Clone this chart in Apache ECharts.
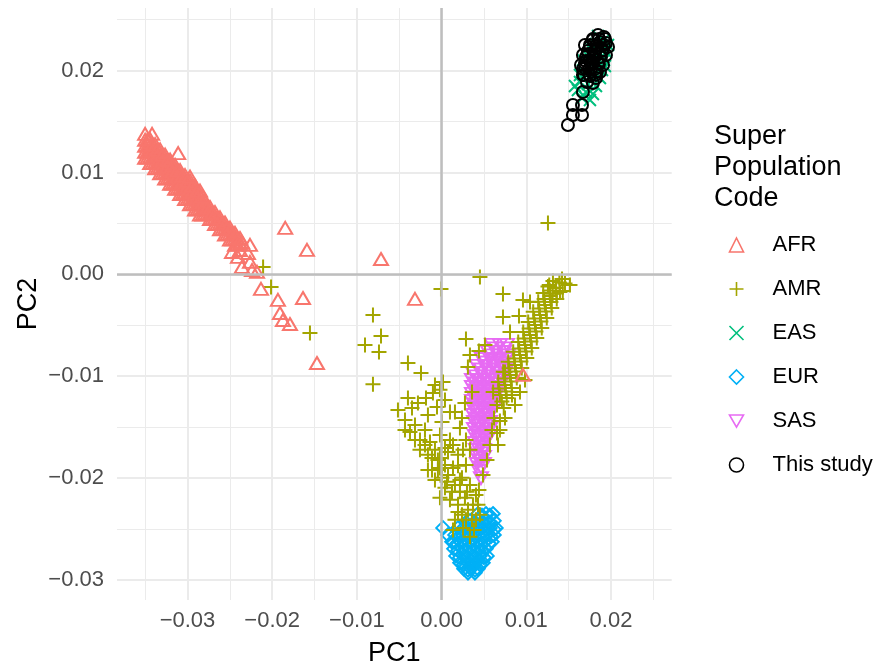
<!DOCTYPE html>
<html>
<head>
<meta charset="utf-8">
<script src="https://cdn.jsdelivr.net/npm/echarts@6/dist/echarts.min.js"></script>
<style>html,body{margin:0;padding:0;background:#fff}#c{width:877px;height:666px}</style>
</head>
<body>
<div id="c"></div>
<script>
const FONT = 'Liberation Sans, Arial, Helvetica, sans-serif';
const groupNames = ['AFR', 'AMR', 'EAS', 'EUR', 'SAS', 'This study'];
const groupColors = ['#F8766D', '#A3A500', '#00BF7D', '#00B0F6', '#E76BF3', '#000000'];
const legendTitle = 'Super\nPopulation\nCode';
const xName = 'PC1';
const yName = 'PC2';
const xRange = [-0.03832, 0.02717];
const yRange = [-0.03197, 0.02615];

const afrData = [
[-0.03500,0.01261],[-0.03500,0.01320],[-0.03500,0.01202],[-0.03500,0.01379],[-0.03500,0.01143],
[-0.03441,0.01210],[-0.03441,0.01269],[-0.03441,0.01151],[-0.03441,0.01328],[-0.03441,0.01092],
[-0.03382,0.01160],[-0.03382,0.01219],[-0.03382,0.01101],[-0.03382,0.01278],[-0.03382,0.01042],
[-0.03323,0.01109],[-0.03323,0.01168],[-0.03323,0.01050],[-0.03323,0.01227],[-0.03323,0.00991],
[-0.03264,0.01058],[-0.03264,0.01117],[-0.03264,0.00999],[-0.03264,0.01176],[-0.03264,0.00940],
[-0.03205,0.01008],[-0.03205,0.01067],[-0.03205,0.00949],[-0.03205,0.01126],[-0.03205,0.00890],
[-0.03146,0.00957],[-0.03146,0.01016],[-0.03146,0.00898],[-0.03146,0.01075],[-0.03146,0.00839],
[-0.03087,0.00906],[-0.03087,0.00965],[-0.03087,0.00847],[-0.03087,0.01024],[-0.03087,0.00788],
[-0.03029,0.00856],[-0.03029,0.00915],[-0.03029,0.00797],[-0.03029,0.00974],[-0.03029,0.00738],
[-0.02970,0.00805],[-0.02970,0.00864],[-0.02970,0.00746],[-0.02970,0.00923],[-0.02970,0.00687],
[-0.02911,0.00754],[-0.02911,0.00813],[-0.02911,0.00695],[-0.02911,0.00872],[-0.02911,0.00636],
[-0.02852,0.00704],[-0.02852,0.00763],[-0.02852,0.00645],[-0.02852,0.00822],[-0.02852,0.00586],
[-0.02793,0.00653],[-0.02793,0.00712],[-0.02793,0.00594],
[-0.02734,0.00602],[-0.02734,0.00661],[-0.02734,0.00543],
[-0.02675,0.00552],[-0.02675,0.00611],[-0.02675,0.00493],
[-0.02616,0.00501],[-0.02616,0.00560],[-0.02616,0.00442],
[-0.02557,0.00450],[-0.02557,0.00509],[-0.02557,0.00391],
[-0.02498,0.00400],[-0.02498,0.00459],[-0.02498,0.00341],
[-0.02439,0.00349],[-0.02439,0.00408],[-0.02439,0.00290],
[-0.02380,0.00298],[-0.02380,0.00357],[-0.02380,0.00239],
[-0.03471,0.01266],[-0.03471,0.01206],[-0.03471,0.01326],[-0.03471,0.01146],
[-0.03412,0.01215],[-0.03412,0.01155],[-0.03412,0.01275],[-0.03412,0.01095],
[-0.03353,0.01164],[-0.03353,0.01104],[-0.03353,0.01224],[-0.03353,0.01044],
[-0.03294,0.01114],[-0.03294,0.01054],[-0.03294,0.01174],[-0.03294,0.00994],
[-0.03235,0.01063],[-0.03235,0.01003],[-0.03235,0.01123],[-0.03235,0.00943],
[-0.03176,0.01012],[-0.03176,0.00952],[-0.03176,0.01072],[-0.03176,0.00892],
[-0.03117,0.00962],[-0.03117,0.00902],[-0.03117,0.01022],[-0.03117,0.00842],
[-0.03058,0.00911],[-0.03058,0.00851],[-0.03058,0.00971],[-0.03058,0.00791],
[-0.03000,0.00860],[-0.03000,0.00800],[-0.03000,0.00920],[-0.03000,0.00740],
[-0.02941,0.00809],[-0.02941,0.00749],[-0.02941,0.00869],[-0.02941,0.00689],
[-0.02882,0.00759],[-0.02882,0.00699],[-0.02882,0.00819],[-0.02882,0.00639],
[-0.02823,0.00708],[-0.02823,0.00648],[-0.02823,0.00768],[-0.02823,0.00588],
[-0.02764,0.00657],[-0.02764,0.00597],
[-0.02705,0.00607],[-0.02705,0.00547],
[-0.02646,0.00556],[-0.02646,0.00496],
[-0.02587,0.00505],[-0.02587,0.00445],
[-0.02528,0.00455],[-0.02528,0.00395],
[-0.02469,0.00404],[-0.02469,0.00344],
[-0.02410,0.00353],[-0.02410,0.00293],
[-0.03418,0.01379],[-0.03110,0.01190],[-0.02970,0.00960],
[-0.02474,0.00220],[-0.02404,0.00171],[-0.02286,0.00210],[-0.02357,0.00073],[-0.02238,0.00043],
[-0.02179,0.00024],[-0.02262,0.00122],[-0.02357,0.00318],[-0.02262,0.00289],
[-0.01846,0.00456],[-0.01589,0.00240],[-0.02132,-0.00143],[-0.01636,-0.00232],[-0.01932,-0.00251],
[-0.01908,-0.00379],[-0.01873,-0.00448],[-0.01790,-0.00487],[-0.01471,-0.00870],[-0.00715,0.00151],
[-0.00314,-0.00241],[0.00961,-0.00987]
];

const amrData = [
[0.01351,-0.00134],[0.01431,-0.00164],[0.01271,-0.00104],[0.01391,-0.00080],[0.01311,-0.00190],
[0.01457,-0.00089],[0.01256,-0.00118],[0.01398,-0.00173],
[0.01516,-0.00104],[0.01422,-0.00045],[0.01315,-0.00065],
[0.01280,-0.00212],[0.01360,-0.00242],[0.01200,-0.00182],
[0.01221,-0.00300],[0.01301,-0.00330],[0.01141,-0.00270],
[0.01162,-0.00398],[0.01242,-0.00428],[0.01082,-0.00368],
[0.01103,-0.00497],[0.01183,-0.00527],[0.01023,-0.00467],
[0.01044,-0.00595],[0.01124,-0.00625],[0.00964,-0.00565],
[0.00985,-0.00693],[0.01065,-0.00723],[0.00905,-0.00663],
[0.00926,-0.00791],[0.01006,-0.00821],[0.00846,-0.00761],
[0.00867,-0.00889],[0.00947,-0.00919],[0.00787,-0.00859],
[0.00808,-0.00987],[0.00888,-0.01017],[0.00728,-0.00957],
[0.00749,-0.01086],[0.00829,-0.01116],[0.00669,-0.01056],
[0.00689,-0.01184],[0.00769,-0.01214],[0.00609,-0.01154],
[0.00654,-0.01282],[0.00734,-0.01312],
[0.00619,-0.01410],[0.00689,-0.01440],
[0.00595,-0.01527],[0.00655,-0.01557],
[0.00571,-0.01675],[0.00536,-0.01822],[0.00489,-0.01969],[0.00441,-0.02116],
[0.01356,-0.00188],[0.01276,-0.00158],[0.01291,-0.00271],[0.01211,-0.00241],
[0.01232,-0.00364],[0.01152,-0.00334],[0.01173,-0.00463],[0.01093,-0.00433],
[0.01114,-0.00561],[0.01034,-0.00531],[0.01055,-0.00659],[0.00975,-0.00629],
[0.00996,-0.00757],[0.00916,-0.00727],[0.00937,-0.00855],[0.00857,-0.00825],
[0.00878,-0.00953],[0.00798,-0.00923],[0.00819,-0.01052],[0.00739,-0.01022],
[0.00759,-0.01150],[0.00679,-0.01120],[0.00712,-0.01248],
[0.00749,-0.00958],[0.00831,-0.01184],[0.00926,-0.01154],[0.00867,-0.01282],[0.00749,-0.01410],
[0.00689,-0.01527],[0.00666,-0.01675],[0.00985,-0.01036],[0.00512,-0.00693],[0.00335,-0.00791],
[0.01256,0.00505],[0.00453,-0.00026],[-0.00007,-0.00143],[-0.00810,-0.00399],[-0.00715,-0.00605],
[-0.00904,-0.00693],[-0.00739,-0.00762],[-0.00397,-0.00870],[-0.00243,-0.00968],[-0.00810,-0.01080],
[0.00288,-0.00634],[0.00441,-0.00752],[0.00311,-0.00909],[0.00725,-0.00192],[0.00961,-0.00251],
[0.01044,-0.00271],[0.00725,-0.00418],[0.00914,-0.00408],[0.00808,-0.00565],[-0.02107,0.00073],
[-0.02013,-0.00124],[-0.01554,-0.00575],
[-0.00515,-0.01331],[-0.00349,-0.01312],[-0.00279,-0.01262],[-0.00054,-0.01302],[-0.00102,-0.01164],
[0.00017,-0.01056],[-0.00078,-0.01086],[-0.00019,-0.01134],[0.00099,-0.01351],[0.00276,-0.01262],
[0.00359,-0.01154],[0.00241,-0.01410],[-0.00432,-0.01429],[-0.00314,-0.01478],[-0.00196,-0.01527],
[-0.00255,-0.01625],[-0.00137,-0.01645],[-0.00078,-0.01723],[-0.00161,-0.01772],[-0.00019,-0.01802],
[0.00040,-0.01871],[-0.00043,-0.01920],[0.00076,-0.01969],[0.00135,-0.01900],[0.00158,-0.02067],
[0.00040,-0.02096],[0.00217,-0.02135],[0.00241,-0.01998],[0.00099,-0.02214],[0.00194,-0.02263],
[0.00276,-0.02194],[0.00312,-0.02312],[0.00359,-0.02410],[0.00241,-0.02361],[0.00158,-0.02410],
[0.00383,-0.02509],[0.00253,-0.02489],[-0.00078,-0.02018],[-0.00113,-0.01920],[-0.00255,-0.01723],
[-0.00373,-0.01547],[0.00005,-0.01449],[0.00099,-0.01625],[0.00194,-0.01772],[0.00288,-0.01871],
[0.00335,-0.01723],[0.00288,-0.01625],[0.00217,-0.01508],[0.00158,-0.01351],[0.00040,-0.01233],
[-0.00184,-0.01213],[0.00335,-0.02067],[0.00406,-0.02165],[0.00430,-0.02263],[0.00453,-0.02361],
[0.00135,-0.02509],[0.00335,-0.02577],[-0.00397,-0.01213],[-0.00161,-0.01380],[-0.00019,-0.01576],
[0.00076,-0.01743],[0.00005,-0.01998],
[-0.00196,-0.01675],[-0.00113,-0.01802],[-0.00019,-0.01900],[0.00064,-0.02037],[0.00123,-0.02135],
[0.00194,-0.01880],[0.00253,-0.01723],[0.00135,-0.01675],[0.00040,-0.01704],[-0.00043,-0.01822],
[0.00217,-0.02018],[0.00300,-0.02135],[0.00371,-0.02263],[0.00288,-0.02410],[0.00406,-0.02410],
[0.00194,-0.02332],[-0.00019,-0.02194],[-0.00161,-0.01920],[-0.00314,-0.01625],[-0.00432,-0.01527]
];

const easData = [
[0.01847,0.02340],[0.01917,0.02301],[0.01823,0.02262],[0.01906,0.02223],[0.01776,0.02203],
[0.01870,0.02164],[0.01941,0.02184],[0.01752,0.02125],[0.01847,0.02085],[0.01917,0.02105],
[0.01728,0.02046],[0.01811,0.02026],[0.01894,0.02007],[0.01693,0.01967],[0.01787,0.01948],
[0.01870,0.01928],[0.01634,0.01889],[0.01728,0.01869],[0.01823,0.01850],[0.01610,0.01810],
[0.01705,0.01791],[0.01787,0.01771],[0.01658,0.01732],[0.01752,0.01712],[0.01575,0.01850],
[0.01929,0.02046],[0.01965,0.02252],[0.01669,0.02105],[0.01634,0.01958]
];

const eurData = [
[0.00430,-0.02351],[0.00524,-0.02351],[0.00607,-0.02351],
[0.00335,-0.02420],[0.00430,-0.02420],[0.00524,-0.02420],[0.00619,-0.02420],
[0.00194,-0.02489],[0.00288,-0.02489],[0.00383,-0.02489],[0.00477,-0.02489],[0.00571,-0.02489],[0.00642,-0.02489],
[0.00158,-0.02558],[0.00253,-0.02558],[0.00347,-0.02558],[0.00441,-0.02558],[0.00536,-0.02558],[0.00619,-0.02558],
[0.00135,-0.02626],[0.00229,-0.02626],[0.00323,-0.02626],[0.00418,-0.02626],[0.00512,-0.02626],[0.00595,-0.02626],
[0.00146,-0.02695],[0.00241,-0.02695],[0.00335,-0.02695],[0.00430,-0.02695],[0.00524,-0.02695],
[0.00170,-0.02764],[0.00264,-0.02764],[0.00359,-0.02764],[0.00453,-0.02764],[0.00536,-0.02764],
[0.00217,-0.02832],[0.00312,-0.02832],[0.00406,-0.02832],[0.00489,-0.02832],
[0.00264,-0.02891],[0.00347,-0.02891],[0.00430,-0.02891],
[0.00312,-0.02930],[0.00394,-0.02930],
[0.00477,-0.02367],[0.00571,-0.02367],
[0.00288,-0.02436],[0.00383,-0.02436],[0.00477,-0.02436],[0.00571,-0.02436],
[0.00241,-0.02504],[0.00335,-0.02504],[0.00430,-0.02504],[0.00524,-0.02504],[0.00619,-0.02504],
[0.00205,-0.02573],[0.00300,-0.02573],[0.00394,-0.02573],[0.00489,-0.02573],[0.00583,-0.02573],
[0.00182,-0.02642],[0.00276,-0.02642],[0.00371,-0.02642],[0.00465,-0.02642],[0.00560,-0.02642],
[0.00194,-0.02711],[0.00288,-0.02711],[0.00383,-0.02711],[0.00477,-0.02711],
[0.00217,-0.02779],[0.00312,-0.02779],[0.00406,-0.02779],[0.00500,-0.02779],
[0.00264,-0.02848],[0.00359,-0.02848],[0.00453,-0.02848],
[0.00312,-0.02902],[0.00394,-0.02902],
[0.00017,-0.02489],[0.00076,-0.02558],[0.00123,-0.02626]
];

const sasData = [
[0.00595,-0.00693],[0.00689,-0.00693],[0.00772,-0.00693],
[0.00548,-0.00762],[0.00642,-0.00762],[0.00737,-0.00762],
[0.00477,-0.00831],[0.00571,-0.00831],[0.00666,-0.00831],[0.00760,-0.00831],
[0.00418,-0.00899],[0.00512,-0.00899],[0.00607,-0.00899],[0.00701,-0.00899],
[0.00371,-0.00968],[0.00465,-0.00968],[0.00560,-0.00968],[0.00654,-0.00968],[0.00749,-0.00968],
[0.00359,-0.01037],[0.00453,-0.01037],[0.00548,-0.01037],[0.00642,-0.01037],[0.00725,-0.01037],
[0.00359,-0.01106],[0.00453,-0.01106],[0.00548,-0.01106],[0.00642,-0.01106],
[0.00359,-0.01174],[0.00453,-0.01174],[0.00548,-0.01174],[0.00642,-0.01174],
[0.00359,-0.01243],[0.00453,-0.01243],[0.00548,-0.01243],[0.00630,-0.01243],
[0.00371,-0.01312],[0.00465,-0.01312],[0.00560,-0.01312],[0.00619,-0.01312],
[0.00371,-0.01381],[0.00465,-0.01381],[0.00560,-0.01381],
[0.00383,-0.01449],[0.00477,-0.01449],[0.00571,-0.01449],
[0.00383,-0.01518],[0.00477,-0.01518],[0.00571,-0.01518],
[0.00394,-0.01587],[0.00489,-0.01587],[0.00560,-0.01587],
[0.00394,-0.01656],[0.00489,-0.01656],
[0.00406,-0.01724],[0.00500,-0.01724],
[0.00418,-0.01793],[0.00500,-0.01793],
[0.00418,-0.01862],[0.00500,-0.01862],
[0.00441,-0.01931],[0.00465,-0.02000],
[0.00642,-0.00727],[0.00737,-0.00727],
[0.00595,-0.00796],[0.00689,-0.00796],[0.00784,-0.00796],
[0.00524,-0.00865],[0.00619,-0.00865],[0.00713,-0.00865],
[0.00465,-0.00934],[0.00560,-0.00934],[0.00654,-0.00934],[0.00749,-0.00934],
[0.00406,-0.01002],[0.00500,-0.01002],[0.00595,-0.01002],[0.00689,-0.01002],
[0.00406,-0.01071],[0.00500,-0.01071],[0.00595,-0.01071],[0.00678,-0.01071],
[0.00406,-0.01140],[0.00500,-0.01140],[0.00595,-0.01140],[0.00678,-0.01140],
[0.00406,-0.01209],[0.00500,-0.01209],[0.00595,-0.01209],
[0.00406,-0.01277],[0.00500,-0.01277],[0.00583,-0.01277],
[0.00418,-0.01346],[0.00512,-0.01346],[0.00595,-0.01346],
[0.00418,-0.01415],[0.00512,-0.01415],
[0.00430,-0.01484],[0.00524,-0.01484],
[0.00430,-0.01552],[0.00524,-0.01552],
[0.00441,-0.01621],[0.00536,-0.01621],
[0.00453,-0.01690],[0.00465,-0.01758],[0.00453,-0.01827],[0.00465,-0.01896]
];

const studyData = [
[0.01847,0.02350],[0.01917,0.02331],[0.01787,0.02301],[0.01870,0.02282],[0.01941,0.02272],
[0.01752,0.02233],[0.01835,0.02223],[0.01906,0.02203],[0.01728,0.02164],[0.01811,0.02154],
[0.01882,0.02135],[0.01705,0.02095],[0.01787,0.02085],[0.01858,0.02066],[0.01693,0.02026],
[0.01764,0.02016],[0.01835,0.01997],[0.01681,0.01958],[0.01752,0.01948],[0.01717,0.01889],
[0.01787,0.01879],[0.01669,0.01791],[0.01551,0.01663],[0.01658,0.01663],[0.01551,0.01565],
[0.01658,0.01565],[0.01492,0.01467],
[0.01693,0.02252],[0.01669,0.02154],[0.01965,0.02233],[0.01941,0.02154],[0.01646,0.02056],
[0.01906,0.02056],[0.01870,0.01987],[0.01823,0.01928],
[0.01787,0.02311],[0.01858,0.02311],[0.01929,0.02311],
[0.01752,0.02252],[0.01835,0.02252],[0.01917,0.02252],
[0.01728,0.02193],[0.01811,0.02193],[0.01894,0.02193],
[0.01705,0.02135],[0.01787,0.02135],[0.01870,0.02135],
[0.01693,0.02076],[0.01764,0.02076],[0.01847,0.02076],
[0.01669,0.02017],[0.01740,0.02017],[0.01811,0.02017],
[0.01669,0.01958],[0.01752,0.01958],[0.01823,0.01958]
];

const SYM_TRI = 'triangle';
const SYM_PLUS = 'path://M5,0L5,10M0,5L10,5';
const SYM_X = 'path://M0,0L10,10M10,0L0,10';
const SYM_DIAMOND = 'diamond';
const SYM_DOWN = 'path://M0,0L12,0L6,10.4Z';
const SYM_CIRCLE = 'circle';

const symbols = [SYM_TRI, SYM_PLUS, SYM_X, SYM_DIAMOND, SYM_DOWN, SYM_CIRCLE];
const symbolSizes = [[14, 12], 15, 12, 13.5, [14, 12], 12];
const dataSets = [afrData, amrData, easData, eurData, sasData, studyData];
const drawOrder = [3, 4, 1, 0, 2, 5];

function fmt(v) {
  const s = Math.abs(v).toFixed(2);
  return (v < -1e-9 ? '\u2212' : '') + s;
}

const chart = echarts.init(document.getElementById('c'), null, { renderer: 'canvas' });

const series = [{
  type: 'scatter',
  name: '_zero',
  data: [],
  silent: true,
  markLine: {
    silent: true,
    symbol: 'none',
    animation: false,
    label: { show: false },
    emphasis: { disabled: true },
    lineStyle: { color: '#BEBEBE', width: 2.5, type: 'solid' },
    data: [{ xAxis: 0 }, { yAxis: 0 }]
  }
}];
drawOrder.forEach(function (i) {
  series.push({
    type: 'scatter',
    name: groupNames[i],
    data: dataSets[i],
    symbol: symbols[i],
    symbolSize: symbolSizes[i],
    silent: true,
    emphasis: { disabled: true },
    itemStyle: { color: 'transparent', borderColor: groupColors[i], borderWidth: 2, opacity: 1 }
  });
});

const axisCommon = {
  type: 'value',
  minInterval: 0.01,
  maxInterval: 0.01,
  splitNumber: 6,
  axisLine: { show: false },
  axisTick: { show: false },
  splitLine: { show: true, showMinLine: false, showMaxLine: false, lineStyle: { color: '#EBEBEB', width: 2 } },
  minorTick: { show: false, splitNumber: 2 },
  minorSplitLine: { show: true, lineStyle: { color: '#EBEBEB', width: 1 } },
  nameLocation: 'middle',
  nameMoveOverlap: false,
  nameTextStyle: { fontFamily: FONT, fontSize: 27, color: '#000' }
};

chart.setOption({
  animation: false,
  backgroundColor: '#fff',
  textStyle: { fontFamily: FONT },
  title: {
    text: legendTitle,
    left: 714,
    top: 121,
    padding: 0,
    textStyle: { fontFamily: FONT, fontSize: 27, fontWeight: 'normal', color: '#000', lineHeight: 31 }
  },
  grid: { left: 117, right: 205.3, top: 8, bottom: 66, containLabel: false, outerBoundsMode: 'none' },
  xAxis: Object.assign({}, axisCommon, {
    min: xRange[0], max: xRange[1],
    name: xName, nameGap: 40,
    axisLabel: { showMinLabel: false, showMaxLabel: false, margin: 10, fontFamily: FONT, fontSize: 22, color: '#4D4D4D', formatter: fmt }
  }),
  yAxis: Object.assign({}, axisCommon, {
    min: yRange[0], max: yRange[1],
    name: yName, nameGap: 75,
    axisLabel: { showMinLabel: false, showMaxLabel: false, margin: 13, fontFamily: FONT, fontSize: 22, color: '#4D4D4D', formatter: fmt }
  }),
  legend: {
    orient: 'vertical',
    left: 728.7,
    top: 234,
    padding: 0,
    itemWidth: 14,
    itemHeight: 14,
    itemGap: 22,
    selectedMode: false,
    textStyle: { fontFamily: FONT, fontSize: 22, color: '#000', lineHeight: 14, padding: [0, 0, 0, 24] },
    data: groupNames.map(function (n, i) {
      return {
        name: n,
        icon: symbols[i],
        itemStyle: { color: 'transparent', borderColor: groupColors[i], borderWidth: 1.6 }
      };
    })
  },
  series: series
});
</script>
</body>
</html>
